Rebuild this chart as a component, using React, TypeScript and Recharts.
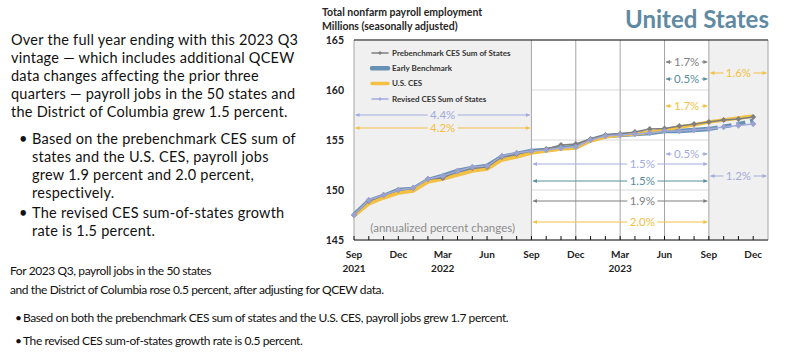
import React from "react"
import {
  CartesianGrid,
  ComposedChart,
  Legend,
  Line,
  ReferenceArea,
  ReferenceDot,
  ReferenceLine,
  XAxis,
  YAxis,
} from "recharts"

// monthly observations, Sep 2021 .. Dec 2023 (x = month index)
const months = [
  "Sep 2021", "Oct 2021", "Nov 2021", "Dec 2021", "Jan 2022", "Feb 2022", "Mar 2022",
  "Apr 2022", "May 2022", "Jun 2022", "Jul 2022", "Aug 2022", "Sep 2022", "Oct 2022",
  "Nov 2022", "Dec 2022", "Jan 2023", "Feb 2023", "Mar 2023", "Apr 2023", "May 2023",
  "Jun 2023", "Jul 2023", "Aug 2023", "Sep 2023", "Oct 2023", "Nov 2023", "Dec 2023",
]

const prebenchmark = [
  147.5, 148.9, 149.5, 150.0, 150.2, 151.1, 151.2, 151.9, 152.2, 152.3, 153.3, 153.6, 153.9, 154.1,
  154.5, 154.6, 155.1, 155.5, 155.6, 155.8, 156.1, 156.15, 156.4, 156.6, 156.8, 157.0, 157.1, 157.3,
]

const earlyBenchmark = [
  147.5, 148.9, 149.4, 150.0, 150.1, 151.0, 151.4, 151.9, 152.2, 152.4, 153.3, 153.6, 153.9, 154.0,
  154.2, 154.3, 155.0, 155.4, 155.5, 155.6, 155.7, 155.9, 155.9, 156.0, 156.1, null, null, null,
]

const earlyProjected = [
  null, null, null, null, null, null, null, null, null, null, null, null, null, null,
  null, null, null, null, null, null, null, null, null, null, 156.1, 156.35, 156.6, 156.95,
]

const usCes = [
  147.4, 148.6, 149.2, 149.7, 149.9, 150.8, 151.1, 151.5, 151.9, 152.1, 153.0, 153.3, 153.7, 153.9,
  154.1, 154.2, 154.9, 155.3, 155.5, 155.6, 155.8, 156.0, 156.3, 156.5, 156.8, 157.0, 157.2, 157.4,
]

const revisedSum = [
  147.5, 149.0, 149.5, 150.0, 150.2, 151.1, 151.4, 151.9, 152.3, 152.4, 153.4, 153.7, 153.9, 154.0,
  154.2, 154.3, 155.0, 155.4, 155.5, 155.6, 155.7, 155.9, 155.9, 156.0, 156.1, 156.3, 156.45, 156.6,
]

const monthTicks = months.map((_, i) => i)
const quarterLabels: Record<number, [string, string]> = {
  0: ["Sep", "2021"], 3: ["Dec", ""], 6: ["Mar", "2022"], 9: ["Jun", ""], 12: ["Sep", ""],
  15: ["Dec", ""], 18: ["Mar", "2023"], 21: ["Jun", ""], 24: ["Sep", ""], 27: ["Dec", ""],
}
const yTicks = [145, 150, 155, 160, 165]
const quarterLines = [0, 12, 15, 18, 21, 24, 28]

const GRAY = "#7f7f7f"
const BLUE = "#6690b4"
const TEAL = "#5a8e9e"
const GOLD = "#f3c043"
const LILAC = "#a3abdc"

// annualized percent changes, drawn as double arrows over the period they cover
const growth = [
  { from: 0, to: 12, level: 157.5, at: 6, text: "4.4%", color: LILAC },
  { from: 0, to: 12, level: 156.2, at: 6, text: "4.2%", color: GOLD },
  { from: 12, to: 24, level: 152.6, at: 19.5, text: "1.5%", color: LILAC },
  { from: 12, to: 24, level: 150.9, at: 19.5, text: "1.5%", color: TEAL },
  { from: 12, to: 24, level: 148.9, at: 19.5, text: "1.9%", color: GRAY },
  { from: 12, to: 24, level: 146.8, at: 19.5, text: "2.0%", color: GOLD },
  { from: 21, to: 24, level: 162.8, at: 22.5, text: "1.7%", color: GRAY },
  { from: 21, to: 24, level: 161.1, at: 22.5, text: "0.5%", color: TEAL },
  { from: 21, to: 24, level: 158.4, at: 22.5, text: "1.7%", color: GOLD },
  { from: 21, to: 24, level: 153.6, at: 22.5, text: "0.5%", color: LILAC },
  { from: 24, to: 28, level: 161.7, at: 26, text: "1.6%", color: GOLD },
  { from: 24, to: 28, level: 151.4, at: 26, text: "1.2%", color: LILAC },
]

const legendItems = [
  { name: "Prebenchmark CES Sum of States", color: GRAY, width: 1.5, marker: true },
  { name: "Early Benchmark", color: BLUE, width: 4.5, marker: false },
  { name: "U.S. CES", color: GOLD, width: 3.5, marker: false },
  { name: "Revised CES Sum of States", color: LILAC, width: 1.5, marker: true },
]

const diamond = (color: string, s: number) => (p: any) => {
  const { cx, cy, index } = p
  if (cx == null || cy == null || Number.isNaN(cy)) return <g key={index} />
  return <path key={index} d={`M${cx},${cy - s}L${cx + s},${cy}L${cx},${cy + s}L${cx - s},${cy}Z`} fill={color} />
}

const arrowShape = (g: (typeof growth)[number]) => (p: any) => {
  const { x1, x2, y1 } = p
  const a = x1 + 1.5
  const b = x2 - 1.5
  const mid = x1 + ((g.at - g.from) / (g.to - g.from)) * (x2 - x1)
  const gap = 15
  return (
    <g>
      <line x1={a} y1={y1} x2={mid - gap} y2={y1} stroke={g.color} strokeWidth={1} />
      <line x1={mid + gap} y1={y1} x2={b} y2={y1} stroke={g.color} strokeWidth={1} />
      <path d={`M${a},${y1}L${a + 4},${y1 - 2}L${a + 4},${y1 + 2}Z`} fill={g.color} />
      <path d={`M${b},${y1}L${b - 4},${y1 - 2}L${b - 4},${y1 + 2}Z`} fill={g.color} />
      <text x={mid} y={y1 + 4} textAnchor="middle" fontSize={11.5} fill={g.color} fontFamily="Lato, sans-serif">
        {g.text}
      </text>
    </g>
  )
}

function MonthTick(props: any) {
  const { x, y, payload } = props
  const lab = quarterLabels[payload.value]
  if (!lab) return <g />
  return (
    <g>
      <text x={x} y={y + 18} textAnchor="middle" fontSize={10} fontWeight={700} fill="#222" fontFamily="Lato, sans-serif">
        {lab[0]}
      </text>
      {lab[1] && (
        <text x={x} y={y + 32} textAnchor="middle" fontSize={10} fontWeight={700} fill="#222" fontFamily="Lato, sans-serif">
          {lab[1]}
        </text>
      )}
    </g>
  )
}

function LegendBox() {
  return (
    <svg width={170} height={62} style={{ display: "block" }}>
      {legendItems.map((it, k) => {
        const y = 7 + k * 15.3
        return (
          <g key={it.name}>
            <line x1={2} x2={18} y1={y} y2={y} stroke={it.color} strokeWidth={it.width} strokeLinecap="round" />
            {it.marker && <path d={`M10,${y - 2}L12,${y}L10,${y + 2}L8,${y}Z`} fill={it.color} />}
            <text x={22} y={y + 2.8} fontSize={8} fontWeight={700} fill="#333" fontFamily="Lato, sans-serif">
              {it.name}
            </text>
          </g>
        )
      })}
    </svg>
  )
}

const bulletDot = (left: number) => ({ position: "absolute" as const, left, top: 0 })

const leftText = { position: "absolute" as const, fontSize: 14.5, lineHeight: "18px", letterSpacing: 0.25, whiteSpace: "pre" as const }
const bottomText = { position: "absolute" as const, fontSize: 12, letterSpacing: -0.4, whiteSpace: "pre" as const }

export default function App() {
  const data = months.map((m, i) => ({
    i,
    month: m,
    pre: prebenchmark[i],
    early: earlyBenchmark[i],
    earlyProj: earlyProjected[i],
    ces: usCes[i],
    revised: revisedSum[i],
  }))

  return (
    <div
      style={{
        position: "absolute",
        left: 0,
        top: 0,
        width: 800,
        height: 359,
        background: "#fff",
        fontFamily: "Lato, sans-serif",
        color: "#111",
        overflow: "hidden",
      }}
    >
      <div style={{ ...leftText, left: 11, top: 31.4 }}>
        {"Over the full year ending with this 2023 Q3\nvintage \u2014 which includes additional QCEW\ndata changes affecting the prior three\nquarters \u2014 payroll jobs in the 50 states and\nthe District of Columbia grew 1.5 percent."}
      </div>
      <div style={{ ...leftText, left: 32, top: 130.4 }}>
        <span style={bulletDot(-13)}>•</span>
        {"Based on the prebenchmark CES sum of\nstates and the U.S. CES, payroll jobs\ngrew 1.9 percent and 2.0 percent,\nrespectively."}
      </div>
      <div style={{ ...leftText, left: 32, top: 203.8 }}>
        <span style={bulletDot(-13)}>•</span>
        {"The revised CES sum-of-states growth\nrate is 1.5 percent."}
      </div>

      <div style={{ ...bottomText, left: 10, top: 261, lineHeight: "19px" }}>
        For 2023 Q3, payroll jobs in the 50 states
      </div>
      <div style={{ ...bottomText, left: 10, top: 280, lineHeight: "19px" }}>
        and the District of Columbia rose 0.5 percent, after adjusting for QCEW data.
      </div>
      <div style={{ ...bottomText, left: 23, top: 305.5, lineHeight: "23px" }}>
        <span style={bulletDot(-8)}>•</span>
        {"Based on both the prebenchmark CES sum of states and the U.S. CES, payroll jobs grew 1.7 percent."}
      </div>
      <div style={{ ...bottomText, left: 23, top: 328.5, lineHeight: "23px" }}>
        <span style={bulletDot(-8)}>•</span>
        {"The revised CES sum-of-states growth rate is 0.5 percent."}
      </div>

      <div
        style={{
          position: "absolute",
          left: 322,
          top: 5,
          fontSize: 10.5,
          lineHeight: "14px",
          fontWeight: 700,
          color: "#262626",
          whiteSpace: "pre",
        }}
      >
        {"Total nonfarm payroll employment\nMillions (seasonally adjusted)"}
      </div>
      <div
        style={{
          position: "absolute",
          left: 625,
          top: 7,
          fontSize: 24,
          lineHeight: "24px",
          fontWeight: 700,
          color: "#5f8aa4",
          whiteSpace: "pre",
        }}
      >
        United States
      </div>

      <div style={{ position: "absolute", left: 300, top: 0 }}>
        <ComposedChart width={500} height={300} data={data} margin={{ top: 40, right: 32, bottom: 20, left: 0 }}>
          <ReferenceArea x1={0} x2={12} y1={145} y2={165} fill="#f0f0f0" fillOpacity={1} stroke="none" />
          <ReferenceArea x1={24} x2={28} y1={145} y2={165} fill="#f0f0f0" fillOpacity={1} stroke="none" />
          <CartesianGrid vertical={false} stroke="#d9d9d9" />
          {quarterLines.map((q) => (
            <ReferenceLine key={q} x={q} stroke="#a6a6a6" strokeWidth={1} />
          ))}
          <ReferenceLine y={165} stroke="#111" strokeWidth={1} />
          <XAxis
            type="number"
            dataKey="i"
            domain={[0, 28]}
            ticks={monthTicks}
            interval={0}
            height={40}
            tickSize={-4}
            tickMargin={4}
            tick={<MonthTick />}
            axisLine={{ stroke: "#111" }}
            tickLine={{ stroke: "#111" }}
          />
          <YAxis
            type="number"
            domain={[145, 165]}
            ticks={yTicks}
            width={54}
            tickSize={0}
            tickMargin={10}
            axisLine={false}
            tickLine={false}
            tick={{ fill: "#222", fontSize: 10.5, fontWeight: 700, fontFamily: "Lato, sans-serif" }}
          />
          {growth.map((g, k) => (
            <ReferenceLine
              key={k}
              segment={[
                { x: g.from, y: g.level },
                { x: g.to, y: g.level },
              ]}
              shape={arrowShape(g)}
            />
          ))}
          <ReferenceDot
            x={6}
            y={146.2}
            r={0}
            shape={(p: any) => (
              <text x={p.cx} y={p.cy + 4} textAnchor="middle" fontSize={11.5} fill="#8c8c8c" fontFamily="Lato, sans-serif">
                (annualized  percent changes)
              </text>
            )}
          />
          <Legend
            layout="vertical"
            align="center"
            verticalAlign="middle"
            wrapperStyle={{ left: 70, top: 46, width: 170, height: 62 }}
            content={() => <LegendBox />}
          />
          <Line
            dataKey="early"
            name="Early Benchmark"
            stroke={BLUE}
            strokeWidth={4.5}
            dot={false}
            isAnimationActive={false}
          />
          <Line
            dataKey="earlyProj"
            name="Early Benchmark (projected)"
            legendType="none"
            stroke={BLUE}
            strokeWidth={4}
            strokeDasharray="9 5"
            dot={false}
            isAnimationActive={false}
          />
          <Line dataKey="ces" name="U.S. CES" stroke={GOLD} strokeWidth={3.5} dot={false} isAnimationActive={false} />
          <Line
            dataKey="pre"
            name="Prebenchmark CES Sum of States"
            stroke={GRAY}
            strokeWidth={1.5}
            dot={diamond(GRAY, 3)}
            isAnimationActive={false}
          />
          <Line
            dataKey="revised"
            name="Revised CES Sum of States"
            stroke={LILAC}
            strokeWidth={1.5}
            dot={diamond("#9aa3cf", 3.2)}
            isAnimationActive={false}
          />
        </ComposedChart>
      </div>
    </div>
  )
}
